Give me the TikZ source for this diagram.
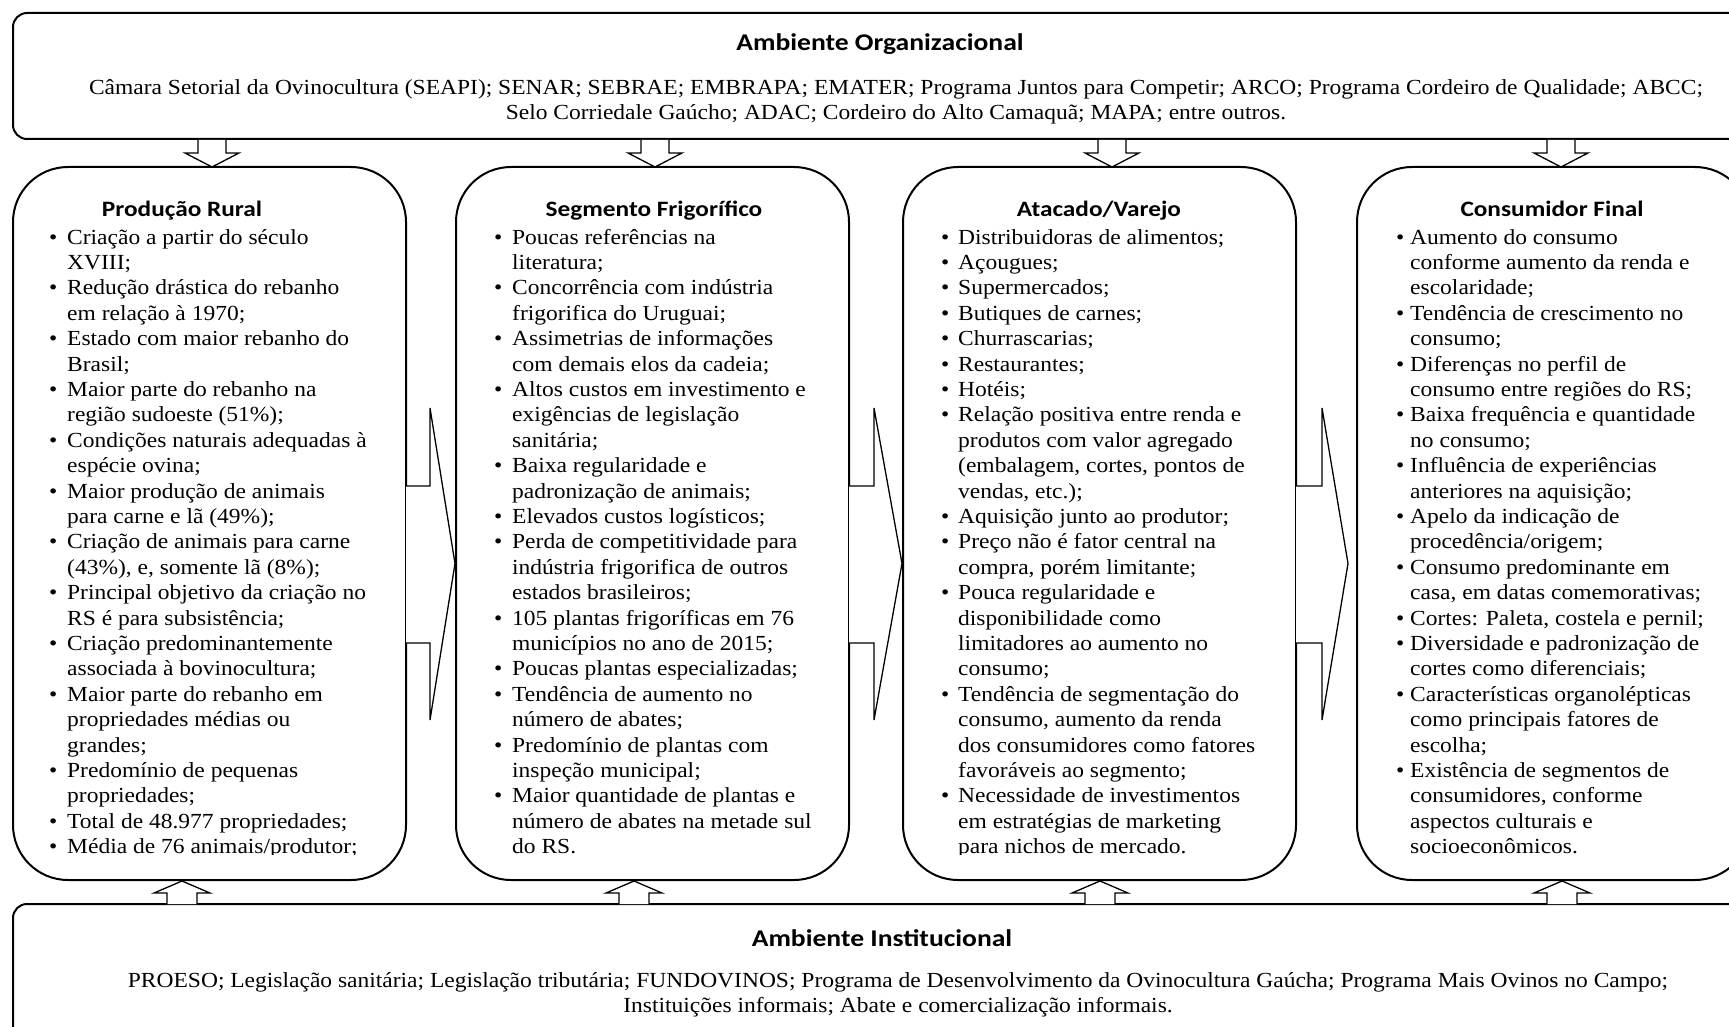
\documentclass[tikz,border=0pt]{standalone}
\usepackage{fontspec}
\setmainfont{Liberation Serif}[FakeStretch=1.093]
\newfontfamily\ttlfont{Carlito}[FakeStretch=1.15]
\newlength\bw
\newcommand\itm[1]{\par\noindent\hangindent=\bw\hangafter=1\makebox[\bw][l]{\textbullet}#1}
\newcommand\nl{\hfil\break}
\newcommand\bodyfont{\fontsize{21.5pt}{25.4pt}\selectfont}
\tikzset{
  colbox/.style={draw, line width=2pt, rounded corners=55pt, minimum width=393pt, minimum height=713pt, inner sep=0pt},
  envbox/.style={draw, line width=2pt, rounded corners=14pt, inner sep=0pt},
  blk/.style={draw, line width=1.3pt, fill=white, line join=miter},
  ttl/.style={font=\ttlfont\bfseries\fontsize{22pt}{26pt}\selectfont, anchor=base, inner sep=0pt},
  etitle/.style={font=\ttlfont\bfseries\fontsize{24pt}{28pt}\selectfont, anchor=base, inner sep=0pt},
  etext/.style={font=\bodyfont, anchor=base, inner sep=0pt},
  listnode/.style={anchor=base west, inner sep=0pt},
  downarr/.pic={\draw[blk] (-14,0) -- (-14,13) -- (-27,13) -- (0,27) -- (27,13) -- (14,13) -- (14,0);},
  uparr/.pic={\draw[blk] (-15,0) -- (-15,-11) -- (-28,-11) -- (0,-23) -- (28,-11) -- (15,-11) -- (15,0);}
}
\begin{document}
\begin{tikzpicture}[x=1pt,y=-1pt]
\useasboundingbox (0,0) rectangle (1729,1027);
\fill[white] (0,0) rectangle (1729,1027);
\clip (0,0) rectangle (1729,1027);

% environment boxes
\node[envbox, minimum width=1732pt, minimum height=126pt] (org) at (879,76) {};
\node[envbox, minimum width=1732pt, minimum height=136pt] (inst) at (879,972) {};

% column boxes
\node[colbox] (b1) at (209.5,523.5) {};
\node[colbox] (b2) at (652.5,523.5) {};
\node[colbox] (b3) at (1099.5,523.5) {};
\node[colbox] (b4) at (1553.5,523.5) {};

% horizontal block arrows
\draw[blk] (406,486) -- (430,486) -- (430,408) -- (455,563.5) -- (430,720) -- (430,643) -- (406,643);
\draw[blk] (849,486) -- (874,486) -- (874,408) -- (902,563.5) -- (874,720) -- (874,643) -- (849,643);
\draw[blk] (1296,486) -- (1322,486) -- (1322,408) -- (1348,563.5) -- (1322,720) -- (1322,643) -- (1296,643);

% vertical arrows
\pic at (212,140) {downarr};
\pic at (655,140) {downarr};
\pic at (1112,140) {downarr};
\pic at (1561,140) {downarr};
\pic at (182,904) {uparr};
\pic at (634,904) {uparr};
\pic at (1100,904) {uparr};
\pic at (1562,904) {uparr};

% top environment text
\node[etitle] (orgt) at (880,51) {Ambiente Organizacional};
\node[etext] (orgl1) at (896,95) {Câmara Setorial da Ovinocultura (SEAPI); SENAR; SEBRAE; EMBRAPA; EMATER; Programa Juntos para Competir; ARCO; Programa Cordeiro de Qualidade; ABCC;};
\node[etext] (orgl2) at (896,120) {Selo Corriedale Gaúcho; ADAC; Cordeiro do Alto Camaquã; MAPA; entre outros.};

% bottom environment text
\node[etitle] (instt) at (882,946) {Ambiente Institucional};
\node[etext] (instl1) at (898,987) {PROESO; Legislação sanitária; Legislação tributária; FUNDOVINOS; Programa de Desenvolvimento da Ovinocultura Gaúcha; Programa Mais Ovinos no Campo;};
\node[etext] (instl2) at (898,1012) {Instituições informais; Abate e comercialização informais.};

% column titles
\node[ttl] (h1) at (182,217) {Produção Rural};
\node[ttl] (h2) at (654,217) {Segmento Frigorífico};
\node[ttl] (h3) at (1099,217) {Atacado/Varejo};
\node[ttl] (h4) at (1552,217) {Consumidor Final};

% column 1
\begin{scope}
\clip (0,0) rectangle (1729,854.5);
\node[listnode] (t1) at (49,244) {\parbox[t]{380pt}{\bodyfont\setlength\bw{18pt}%
\itm{Criação a partir do século\nl XVIII;}
\itm{Redução drástica do rebanho\nl em relação à 1970;}
\itm{Estado com maior rebanho do\nl Brasil;}
\itm{Maior parte do rebanho na\nl região sudoeste (51\%);}
\itm{Condições naturais adequadas à\nl espécie ovina;}
\itm{Maior produção de animais\nl para carne e lã (49\%);}
\itm{Criação de animais para carne\nl (43\%), e, somente lã (8\%);}
\itm{Principal objetivo da criação no\nl RS é para subsistência;}
\itm{Criação predominantemente\nl associada à bovinocultura;}
\itm{Maior parte do rebanho em\nl propriedades médias ou\nl grandes;}
\itm{Predomínio de pequenas\nl propriedades;}
\itm{Total de 48.977 propriedades;}
\itm{Média de 76 animais/produtor;}}};
\end{scope}

% column 2
\node[listnode] (t2) at (494,244) {\parbox[t]{380pt}{\bodyfont\setlength\bw{18pt}%
\itm{Poucas referências na\nl literatura;}
\itm{Concorrência com indústria\nl frigorifica do Uruguai;}
\itm{Assimetrias de informações\nl com demais elos da cadeia;}
\itm{Altos custos em investimento e\nl exigências de legislação\nl sanitária;}
\itm{Baixa regularidade e\nl padronização de animais;}
\itm{Elevados custos logísticos;}
\itm{Perda de competitividade para\nl indústria frigorifica de outros\nl estados brasileiros;}
\itm{105 plantas frigoríficas em 76\nl municípios no ano de 2015;}
\itm{Poucas plantas especializadas;}
\itm{Tendência de aumento no\nl número de abates;}
\itm{Predomínio de plantas com\nl inspeção municipal;}
\itm{Maior quantidade de plantas e\nl número de abates na metade sul\nl do RS.}}};

% column 3
\begin{scope}
\clip (0,0) rectangle (1729,854.5);
\node[listnode] (t3) at (941,244) {\parbox[t]{380pt}{\bodyfont\setlength\bw{17pt}%
\itm{Distribuidoras de alimentos;}
\itm{Açougues;}
\itm{Supermercados;}
\itm{Butiques de carnes;}
\itm{Churrascarias;}
\itm{Restaurantes;}
\itm{Hotéis;}
\itm{Relação positiva entre renda e\nl produtos com valor agregado\nl (embalagem, cortes, pontos de\nl vendas, etc.);}
\itm{Aquisição junto ao produtor;}
\itm{Preço não é fator central na\nl compra, porém limitante;}
\itm{Pouca regularidade e\nl disponibilidade como\nl limitadores ao aumento no\nl consumo;}
\itm{Tendência de segmentação do\nl consumo, aumento da renda\nl dos consumidores como fatores\nl favoráveis ao segmento;}
\itm{Necessidade de investimentos\nl em estratégias de marketing\nl para nichos de mercado.}}};
\end{scope}

% column 4
\node[listnode] (t4) at (1396,244) {\parbox[t]{380pt}{\bodyfont\setlength\bw{14pt}%
\itm{Aumento do consumo\nl conforme aumento da renda e\nl escolaridade;}
\itm{Tendência de crescimento no\nl consumo;}
\itm{Diferenças no perfil de\nl consumo entre regiões do RS;}
\itm{Baixa frequência e quantidade\nl no consumo;}
\itm{Influência de experiências\nl anteriores na aquisição;}
\itm{Apelo da indicação de\nl procedência/origem;}
\itm{Consumo predominante em\nl casa, em datas comemorativas;}
\itm{Cortes: Paleta, costela e pernil;}
\itm{Diversidade e padronização de\nl cortes como diferenciais;}
\itm{Características organolépticas\nl como principais fatores de\nl escolha;}
\itm{Existência de segmentos de\nl consumidores, conforme\nl aspectos culturais e\nl socioeconômicos.}}};
\end{tikzpicture}
\end{document}
